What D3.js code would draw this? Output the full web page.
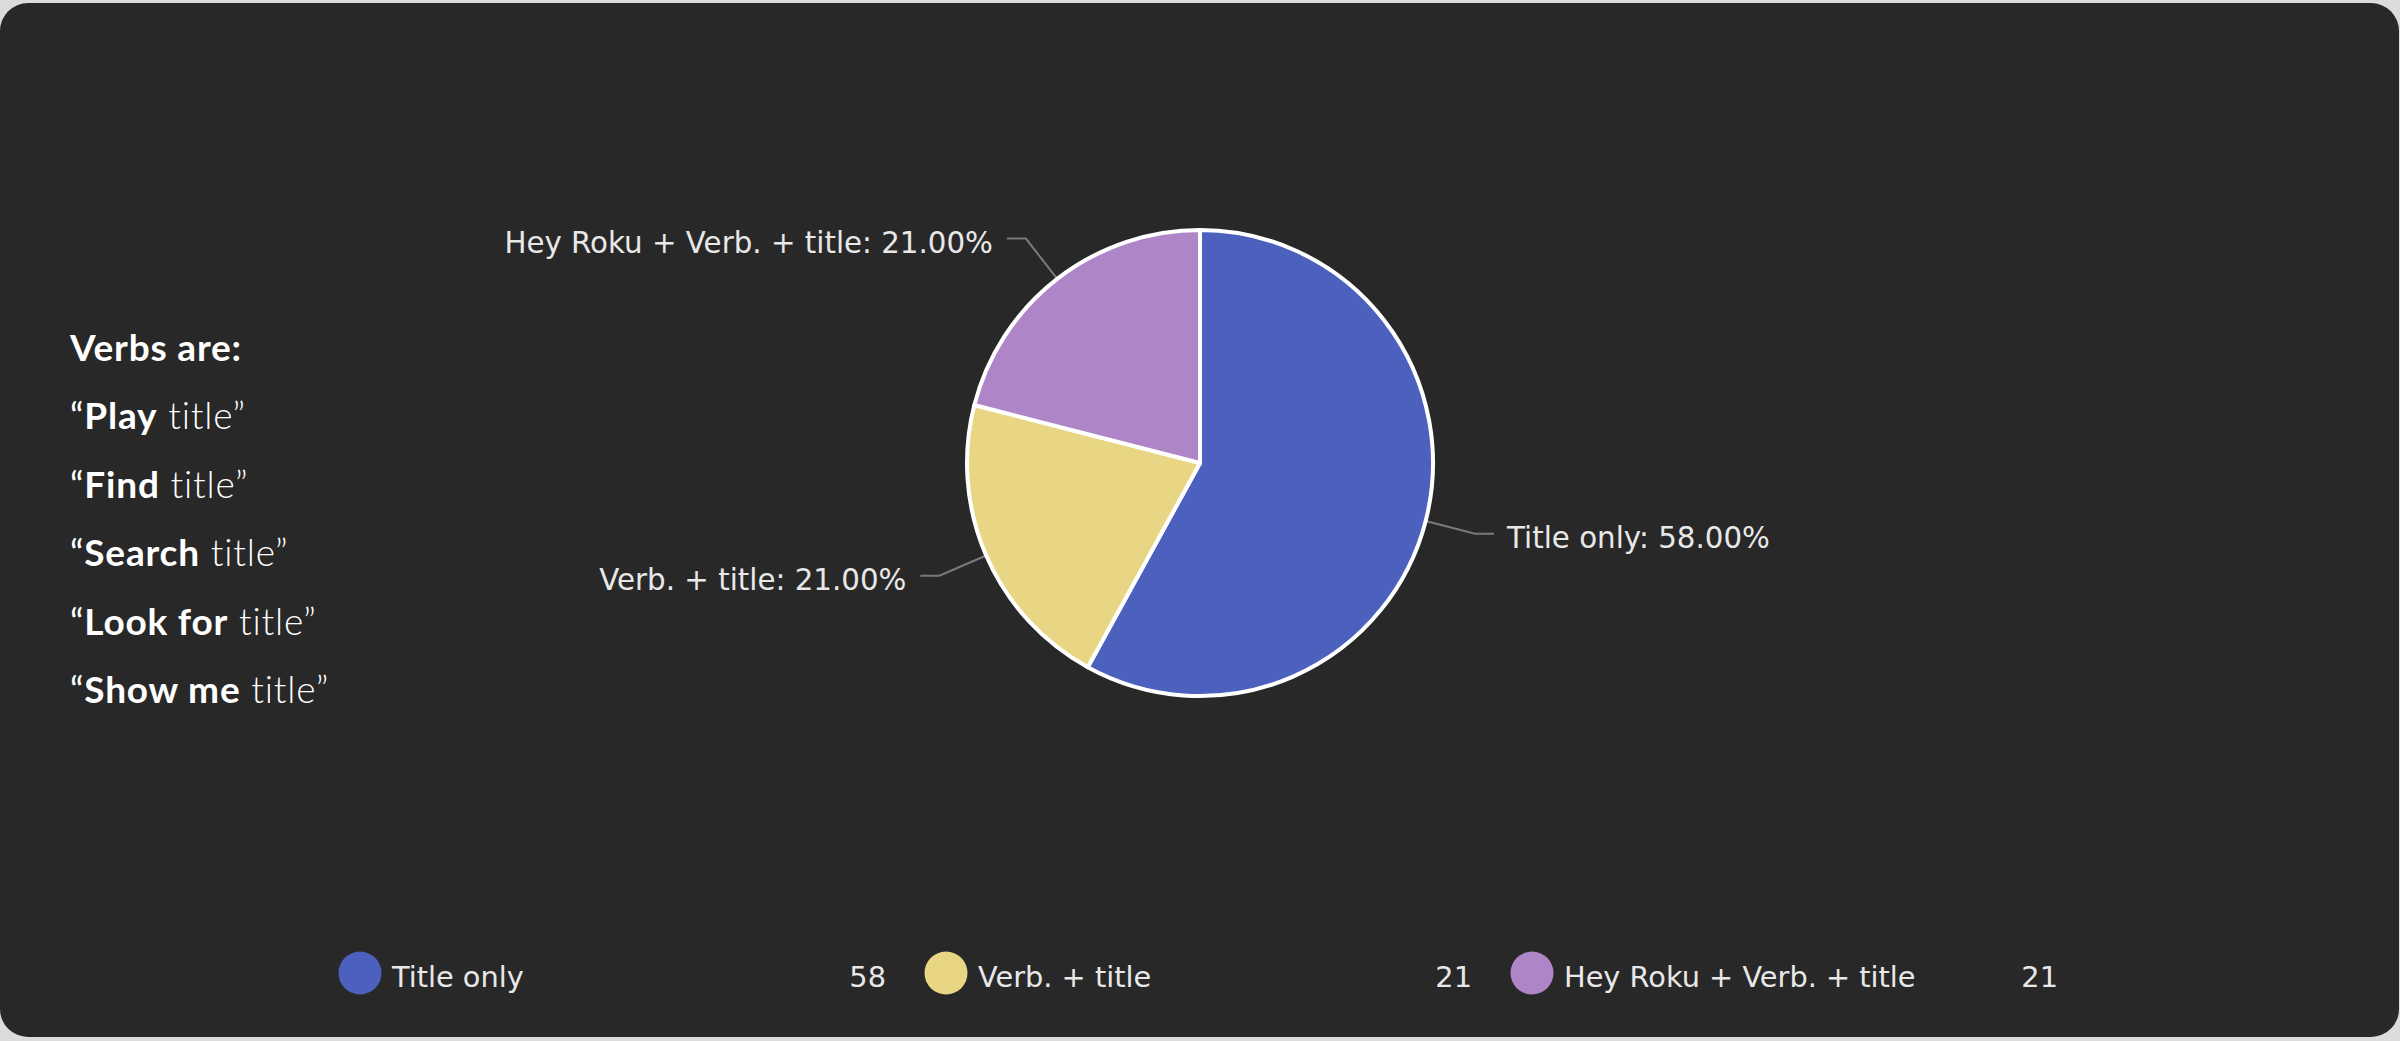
<!DOCTYPE html>
<html>
<head>
<meta charset="utf-8">
<script src="https://cdn.jsdelivr.net/npm/d3@7/dist/d3.min.js"></script>
<style>
  html, body { margin: 0; padding: 0; background: #dcdcdc; }
  svg { display: block; }
</style>
</head>
<body>
<svg id="chart" width="2400" height="1041"></svg>
<script>
// ---- data ----
const categories = ["Title only", "Verb. + title", "Hey Roku + Verb. + title"];
const values = [58, 21, 21];
const palette = ["#4b61bd", "#e8d685", "#ae86c8"];
const noteTitle = "Verbs are:";
const verbs = ["Play", "Find", "Search", "Look for", "Show me"];
const verbObject = "title";

// ---- layout ----
const W = 2400, H = 1041;
const cx = 1200, cy = 463, R = 233;
const elbowR = 284, hLen = 19;
const textColor = "#e8e8e8";
const labelFont = "'DejaVu Sans', Verdana, sans-serif";

const svg = d3.select("#chart");

// card
svg.append("rect")
  .attr("x", 0).attr("y", 3).attr("width", W - 1).attr("height", H - 7)
  .attr("rx", 28).attr("ry", 28)
  .attr("fill", "#282828");

const total = d3.sum(values);
const pct = d3.format(".2f");
const color = d3.scaleOrdinal().domain(categories).range(palette);

const pie = d3.pie().sort(null).value(d => d.value);
const arcs = pie(categories.map((c, i) => ({ name: c, value: values[i] })));
const arc = d3.arc().innerRadius(0).outerRadius(R);

const g = svg.append("g").attr("transform", `translate(${cx},${cy})`);

g.selectAll("path.slice").data(arcs).join("path")
  .attr("class", "slice")
  .attr("d", arc)
  .attr("fill", d => color(d.data.name))
  .attr("stroke", "#ffffff")
  .attr("stroke-width", 4)
  .attr("stroke-linejoin", "round");

// leader lines + labels
arcs.forEach(d => {
  const a = (d.startAngle + d.endAngle) / 2;
  const sx = Math.sin(a), sy = -Math.cos(a);
  const right = sx >= 0;
  const p0 = [sx * R, sy * R];
  const p1 = [sx * elbowR, sy * elbowR];
  const p2 = [p1[0] + (right ? hLen : -hLen), p1[1]];
  g.insert("path", "path.slice")
    .attr("d", d3.line()([p0, p1, p2]))
    .attr("fill", "none")
    .attr("stroke", "#7a7a7a")
    .attr("stroke-width", 2);
  g.append("text")
    .attr("x", p2[0] + (right ? 13 : -14))
    .attr("y", p2[1] + 14)
    .attr("text-anchor", right ? "start" : "end")
    .attr("font-family", labelFont)
    .attr("font-size", 29.3)
    .attr("fill", textColor)
    .text(`${d.data.name}: ${pct(d.data.value / total * 100)}%`);
});

// legend
const legendX = d3.scaleLinear().domain([0, 1]).range([360, 946]);
const legendY = 973;
const leg = svg.append("g");
categories.forEach((c, i) => {
  const x0 = legendX(i);
  leg.append("circle")
    .attr("cx", x0).attr("cy", legendY).attr("r", 21.5)
    .attr("fill", color(c));
  leg.append("text")
    .attr("x", x0 + 32).attr("y", legendY + 14)
    .attr("font-family", labelFont).attr("font-size", 28.8)
    .attr("fill", textColor)
    .text(c);
  leg.append("text")
    .attr("x", x0 + 526).attr("y", legendY + 14)
    .attr("text-anchor", "end")
    .attr("font-family", labelFont).attr("font-size", 28.8)
    .attr("fill", textColor)
    .text(values[i]);
});

// side note
const noteFont = "Lato, 'Open Sans', sans-serif";
const noteY = d3.scaleLinear().domain([0, 1]).range([361, 429.4]);
const note = svg.append("g").attr("font-family", noteFont).attr("font-size", 37)
  .attr("letter-spacing", 0.8).attr("fill", "#ffffff");
note.append("text").attr("x", 70).attr("y", noteY(0)).attr("font-weight", 700).text(noteTitle);
verbs.forEach((v, i) => {
  const t = note.append("text").attr("x", 70).attr("y", noteY(i + 1));
  t.append("tspan").attr("font-weight", 400).text("\u201C");
  t.append("tspan").attr("font-weight", 700).text(v);
  t.append("tspan").attr("font-weight", 300).text(" " + verbObject + "\u201D");
});
</script>
</body>
</html>
